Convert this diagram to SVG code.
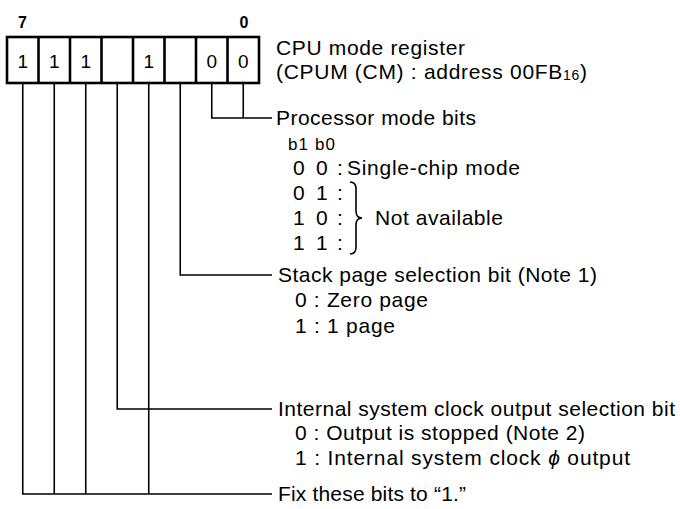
<svg xmlns="http://www.w3.org/2000/svg" width="680" height="509" viewBox="0 0 680 509">
<style>
text{font-family:"Liberation Sans",Arial,Helvetica,sans-serif;fill:#000}
.t{font-size:21px}
.s{font-size:17px}
.n{font-size:16px;font-weight:bold;text-anchor:middle}
.d{font-size:19px;text-anchor:middle}
.box{fill:#fff;stroke:#000;stroke-width:2.6}
.cell{stroke:#000;stroke-width:2.6}
.ln{fill:none;stroke:#000;stroke-width:1.6}
</style>
<rect width="680" height="509" fill="#fff"/>
<g id="register">
<text class="n" x="22.5" y="28">7</text>
<text class="n" x="244" y="28">0</text>
<rect class="box" x="7" y="37" width="252" height="46"/>
<line class="cell" x1="38.5" y1="37" x2="38.5" y2="83"/>
<line class="cell" x1="70" y1="37" x2="70" y2="83"/>
<line class="cell" x1="101.5" y1="37" x2="101.5" y2="83"/>
<line class="cell" x1="133" y1="37" x2="133" y2="83"/>
<line class="cell" x1="164.5" y1="37" x2="164.5" y2="83"/>
<line class="cell" x1="196" y1="37" x2="196" y2="83"/>
<line class="cell" x1="227.5" y1="37" x2="227.5" y2="83"/>
<text class="d" x="22.75" y="68">1</text>
<text class="d" x="54.25" y="68">1</text>
<text class="d" x="85.75" y="68">1</text>
<text class="d" x="148.75" y="68">1</text>
<text class="d" x="211.75" y="68">0</text>
<text class="d" x="243.25" y="68">0</text>
</g>
<g id="title">
<text class="t" x="276" y="55" textLength="189" lengthAdjust="spacing">CPU mode register</text>
<text class="t" x="276" y="79" textLength="311" lengthAdjust="spacing">(CPUM (CM) : address 00FB<tspan font-size="14" dy="1">16</tspan><tspan dy="-1">)</tspan></text>
</g>
<g id="connectors" class="ln">
<polyline points="211.75,83 211.75,118 272,118"/>
<line x1="243.25" y1="83" x2="243.25" y2="118"/>
<polyline points="180.25,83 180.25,275 272,275"/>
<polyline points="117.25,83 117.25,409 272,409"/>
<polyline points="22.75,83 22.75,494 272,494"/>
<line x1="54.25" y1="83" x2="54.25" y2="494"/>
<line x1="85.75" y1="83" x2="85.75" y2="494"/>
<line x1="148.75" y1="83" x2="148.75" y2="494"/>
</g>
<g id="processor-mode">
<text class="t" x="276" y="125" textLength="200" lengthAdjust="spacing">Processor mode bits</text>
<text class="s" x="288" y="150" textLength="47" lengthAdjust="spacing">b1 b0</text>
<text class="t" y="175"><tspan x="293">0</tspan><tspan x="316">0</tspan><tspan x="337">:</tspan></text>
<text class="t" x="347" y="175" textLength="173" lengthAdjust="spacing">Single-chip mode</text>
<text class="t" y="200"><tspan x="293">0</tspan><tspan x="316">1</tspan><tspan x="337">:</tspan></text>
<text class="t" y="225"><tspan x="293">1</tspan><tspan x="316">0</tspan><tspan x="337">:</tspan></text>
<text class="t" y="250"><tspan x="293">1</tspan><tspan x="316">1</tspan><tspan x="337">:</tspan></text>
<path class="ln" d="M350,182 Q356,182 356,189 L356,211 Q356,218 362,218 Q356,218 356,225 L356,247 Q356,254 350,254"/>
<text class="t" x="375" y="225" textLength="128" lengthAdjust="spacing">Not available</text>
</g>
<g id="stack-page">
<text class="t" x="278" y="282" textLength="319" lengthAdjust="spacing">Stack page selection bit (Note 1)</text>
<text class="t" x="295" y="307" textLength="133" lengthAdjust="spacing">0 : Zero page</text>
<text class="t" x="295" y="333" textLength="100" lengthAdjust="spacing">1 : 1 page</text>
</g>
<g id="clock-output">
<text class="t" x="278" y="416" textLength="397" lengthAdjust="spacing">Internal system clock output selection bit</text>
<text class="t" x="295" y="440" textLength="290" lengthAdjust="spacing">0 : Output is stopped (Note 2)</text>
<text class="t" x="295" y="465" textLength="335" lengthAdjust="spacing">1 : Internal system clock  <tspan font-style="italic">ϕ</tspan>  output</text>
</g>
<g id="fix-bits">
<text class="t" x="278" y="501" textLength="188" lengthAdjust="spacing">Fix these bits to “1.”</text>
</g>
</svg>
